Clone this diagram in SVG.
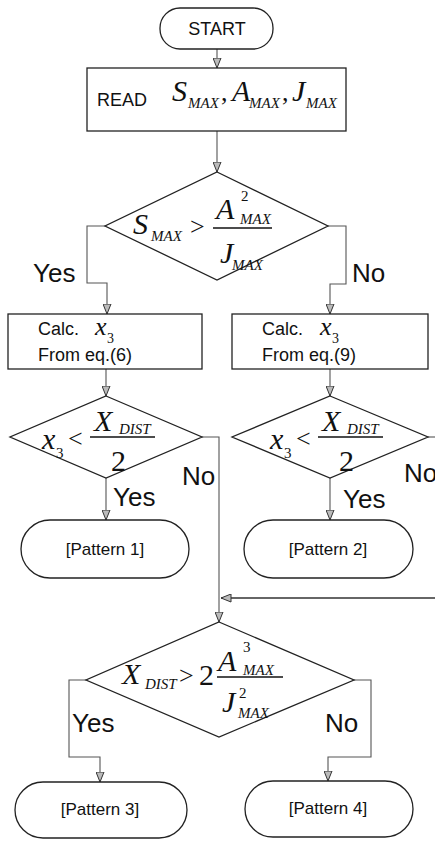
<svg xmlns="http://www.w3.org/2000/svg" width="435" height="842" viewBox="0 0 435 842">
<style>
.shape{fill:#fff;stroke:#222;stroke-width:1.3}
.conn{fill:none;stroke:#555;stroke-width:1.1}
.sans{font-family:"Liberation Sans",Arial,sans-serif;fill:#111}
.lbl{font-size:26px}
.box{font-size:18px}
.m{font-family:"Liberation Serif","Times New Roman",serif;fill:#111}
.i{font-style:italic}
.big{font-size:30px}
.sub{font-size:15px}
.op{font-size:26px}
.bar{stroke:#111;stroke-width:1.6}
</style>
<defs>
<marker id="arr" markerUnits="userSpaceOnUse" markerWidth="11" markerHeight="9" viewBox="0 0 11 9" refX="10.5" refY="4.5" orient="auto"><path d="M0.5,0.5 L10.5,4.5 L0.5,8.5 Z" fill="#bbb" stroke="#333" stroke-width="1"/></marker>
</defs>
<rect width="435" height="842" fill="#fff"/>

<g id="connectors">
<path class="conn" d="M217,49 V68" marker-end="url(#arr)"/>
<path class="conn" d="M217,131 V172" marker-end="url(#arr)"/>
<path class="conn" d="M105,226 H87 V283 H107 V314" marker-end="url(#arr)"/>
<path class="conn" d="M328,226 H346 V284 H330 V314" marker-end="url(#arr)"/>
<path class="conn" d="M106,369 V396" marker-end="url(#arr)"/>
<path class="conn" d="M330,369 V396" marker-end="url(#arr)"/>
<path class="conn" d="M106,478 V520" marker-end="url(#arr)"/>
<path class="conn" d="M330,478 V520" marker-end="url(#arr)"/>
<path class="conn" d="M202,437 H219 V622" marker-end="url(#arr)"/>
<path class="conn" d="M428,437 H435"/>
<path class="conn" style="stroke:#333;stroke-width:1.3" d="M435,598 H221" marker-end="url(#arr)"/>
<path class="conn" d="M86,680 H69 V757 H100 V782" marker-end="url(#arr)"/>
<path class="conn" d="M354,680 H371 V757 H328 V781" marker-end="url(#arr)"/>
</g>

<g id="start">
<rect class="shape" x="160" y="8" width="113" height="41" rx="20" ry="20"/>
<text class="sans" x="217" y="35" font-size="18" text-anchor="middle">START</text>
</g>

<g id="read">
<rect class="shape" x="87" y="68" width="259" height="63"/>
<text class="sans box" x="97" y="106">READ</text>
<text class="m i big" x="172" y="101">S</text>
<text class="m i sub" x="188" y="108">MAX</text>
<text class="m op" x="221" y="101">,</text>
<text class="m i big" x="232" y="101">A</text>
<text class="m i sub" x="249" y="108">MAX</text>
<text class="m op" x="282" y="101">,</text>
<text class="m i big" x="292" y="101">J</text>
<text class="m i sub" x="306" y="108">MAX</text>
</g>

<g id="dec1">
<polygon class="shape" points="217,172 328,226 217,280 105,226"/>
<text class="m i big" x="133" y="234">S</text>
<text class="m i sub" x="151" y="241">MAX</text>
<text class="m op" x="190" y="235">&gt;</text>
<text class="m i big" x="216" y="219">A</text>
<text class="m sub" x="241" y="201">2</text>
<text class="m i sub" x="240" y="224">MAX</text>
<line class="bar" x1="213" y1="228" x2="272" y2="228"/>
<text class="m i big" x="220" y="263">J</text>
<text class="m i sub" x="232" y="270">MAX</text>
<text class="sans lbl" x="33" y="282">Yes</text>
<text class="sans lbl" x="352" y="282">No</text>
</g>

<g id="calc1">
<rect class="shape" x="8" y="314" width="194" height="55"/>
<text class="sans box" x="38" y="335">Calc.</text>
<text class="m i" font-size="26" x="95" y="335">x</text>
<text class="m" font-size="14" x="107" y="343">3</text>
<text class="sans box" x="38" y="361">From eq.(6)</text>
</g>

<g id="calc2">
<rect class="shape" x="232" y="314" width="196" height="55"/>
<text class="sans box" x="262" y="335">Calc.</text>
<text class="m i" font-size="26" x="320" y="335">x</text>
<text class="m" font-size="14" x="332" y="343">3</text>
<text class="sans box" x="262" y="361">From eq.(9)</text>
</g>

<g id="dec2a">
<polygon class="shape" points="106,396 202,437 106,478 10,437"/>
<text class="m i big" x="42" y="449">x</text>
<text class="m sub" x="56" y="458">3</text>
<text class="m op" x="68" y="447">&lt;</text>
<text class="m i big" x="94" y="431">X</text>
<text class="m i sub" x="119" y="434">DIST</text>
<line class="bar" x1="90" y1="437" x2="155" y2="437"/>
<text class="m big" x="111" y="471">2</text>
<text class="sans lbl" x="182" y="485">No</text>
<text class="sans lbl" x="113" y="506">Yes</text>
</g>

<g id="dec2b">
<polygon class="shape" points="330,396 428,437 330,478 232,437"/>
<text class="m i big" x="270" y="449">x</text>
<text class="m sub" x="284" y="458">3</text>
<text class="m op" x="296" y="447">&lt;</text>
<text class="m i big" x="322" y="431">X</text>
<text class="m i sub" x="347" y="434">DIST</text>
<line class="bar" x1="318" y1="437" x2="383" y2="437"/>
<text class="m big" x="339" y="471">2</text>
<text class="sans lbl" x="404" y="482">No</text>
<text class="sans lbl" x="343" y="508">Yes</text>
</g>

<g id="pattern1">
<rect class="shape" x="21" y="520" width="168" height="58" rx="29" ry="29"/>
<text class="sans" font-size="17" x="105" y="555" text-anchor="middle">[Pattern 1]</text>
</g>
<g id="pattern2">
<rect class="shape" x="244" y="520" width="169" height="58" rx="29" ry="29"/>
<text class="sans" font-size="17" x="328" y="555" text-anchor="middle">[Pattern 2]</text>
</g>

<g id="dec3">
<polygon class="shape" points="219,622 354,680 219,737 86,680"/>
<text class="m i big" x="122" y="684">X</text>
<text class="m i sub" x="145" y="689">DIST</text>
<text class="m op" x="179" y="684">&gt;</text>
<text class="m big" x="199" y="685">2</text>
<text class="m i big" x="218" y="671">A</text>
<text class="m sub" x="243" y="652">3</text>
<text class="m i sub" x="243" y="675">MAX</text>
<line class="bar" x1="217" y1="677" x2="283" y2="677"/>
<text class="m i big" x="222" y="712">J</text>
<text class="m sub" x="239" y="698">2</text>
<text class="m i sub" x="238" y="718">MAX</text>
<text class="sans lbl" x="72" y="732">Yes</text>
<text class="sans lbl" x="325" y="732">No</text>
</g>

<g id="pattern3">
<rect class="shape" x="15" y="782" width="172" height="56" rx="28" ry="28"/>
<text class="sans" font-size="17" x="100" y="815" text-anchor="middle">[Pattern 3]</text>
</g>
<g id="pattern4">
<rect class="shape" x="245" y="781" width="168" height="56" rx="28" ry="28"/>
<text class="sans" font-size="17" x="328" y="814" text-anchor="middle">[Pattern 4]</text>
</g>
</svg>
